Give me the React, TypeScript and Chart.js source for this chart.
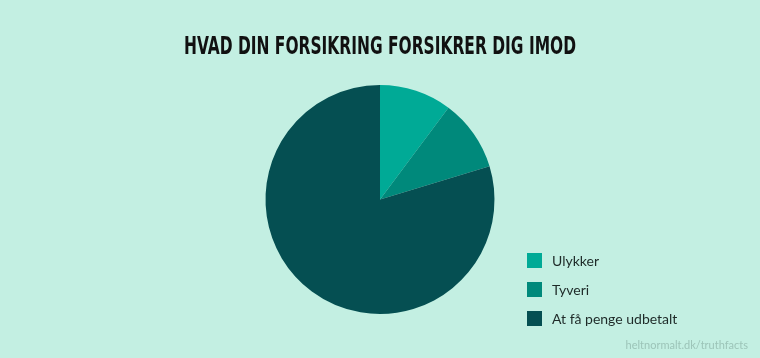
import React, { useEffect, useRef } from "react";
import { Chart, registerables } from "chart.js";

Chart.register(...registerables);

const TITLE = "HVAD DIN FORSIKRING FORSIKRER DIG IMOD";
const LABELS = ["Ulykker", "Tyveri", "At få penge udbetalt"];
const VALUES = [10.2, 10.1, 79.7];
const COLORS = ["#00aa96", "#00897b", "#054f52"];
const SOURCE = "heltnormalt.dk/truthfacts";
const BG = "#c3efe2";

const decorPlugin = {
  id: "decor",
  beforeDraw(chart: any) {
    const ctx = chart.ctx;
    ctx.save();
    ctx.fillStyle = BG;
    ctx.fillRect(0, 0, chart.width, chart.height);
    ctx.restore();
  },
  afterDraw(chart: any) {
    const ctx = chart.ctx;
    ctx.save();
    // title
    ctx.font = "bold 24px 'DejaVu Sans Condensed', 'Roboto Condensed', 'Liberation Sans Narrow', Roboto, sans-serif";
    ctx.fillStyle = "#111111";
    ctx.textBaseline = "middle";
    ctx.textAlign = "center";
    const w = ctx.measureText(TITLE).width;
    const target = 392;
    ctx.translate(380, 48);
    ctx.scale(target / w, 1);
    ctx.fillText(TITLE, 0, 0);
    ctx.restore();

    // legend
    ctx.save();
    ctx.font = "14px Lato, 'Open Sans', sans-serif";
    ctx.textBaseline = "middle";
    ctx.textAlign = "left";
    LABELS.forEach((lab, i) => {
      const y = 260 + i * 29;
      ctx.fillStyle = COLORS[i];
      ctx.fillRect(527, y - 7, 15, 15);
      ctx.fillStyle = "#1e2a28";
      ctx.fillText(lab, 552, y + 1);
    });
    ctx.restore();

    // source
    ctx.save();
    ctx.font = "11px Lato, 'Open Sans', sans-serif";
    ctx.fillStyle = "#9cc4b8";
    ctx.textAlign = "right";
    ctx.textBaseline = "middle";
    ctx.fillText(SOURCE, 748, 345);
    ctx.restore();
  },
};

export default function App() {
  const ref = useRef<HTMLCanvasElement>(null);
  useEffect(() => {
    if (!ref.current) return;
    const chart = new Chart(ref.current, {
      type: "pie",
      data: {
        labels: LABELS,
        datasets: [
          {
            data: VALUES,
            backgroundColor: COLORS,
            borderWidth: 0,
          },
        ],
      },
      options: {
        animation: false,
        responsive: false,
        layout: { padding: { top: 85, bottom: 44, left: 0, right: 0 } },
        plugins: {
          legend: { display: false },
          title: { display: false },
          tooltip: { enabled: false },
        },
      },
      plugins: [decorPlugin],
    });
    return () => chart.destroy();
  }, []);
  return (
    <div style={{ position: "absolute", left: 0, top: 0, width: 760, height: 358, background: BG }}>
      <canvas ref={ref} width={760} height={358} style={{ display: "block" }} />
    </div>
  );
}
